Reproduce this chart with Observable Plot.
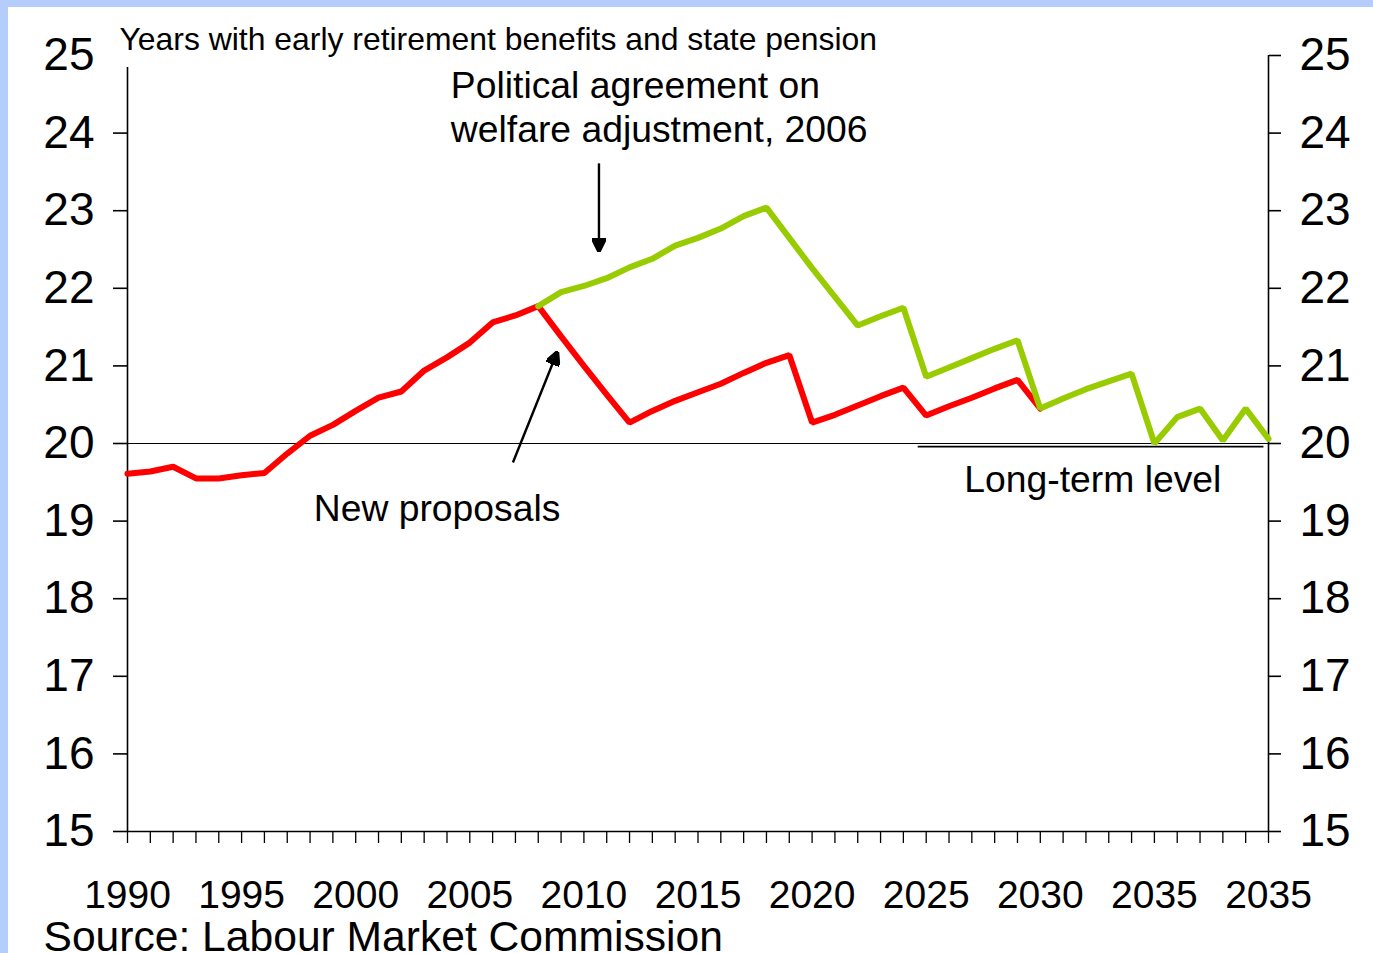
<!DOCTYPE html>
<html>
<head>
<meta charset="utf-8">
<script src="https://cdn.jsdelivr.net/npm/d3@7"></script>
<script src="https://cdn.jsdelivr.net/npm/@observablehq/plot@0.6"></script>
<style>
  html, body { margin: 0; padding: 0; }
  body { width: 1373px; height: 953px; background: #b4cdfa; position: relative; overflow: hidden; }
  #wrap { position: absolute; left: 8px; top: 7px; width: 1365px; height: 946px; background: #ffffff; }
</style>
</head>
<body>
<div id="wrap"></div>
<script>
// ---- Data ----
const redYears = [1990,1991,1992,1993,1994,1995,1996,1997,1998,1999,
                  2000,2001,2002,2003,2004,2005,2006,2007,2008,2009,
                  2010,2011,2012,2013,2014,2015,2016,2017,2018,2019,
                  2020,2021,2022,2023,2024,2025,2026,2027,2028,2029,2030];
const redValues = [19.61,19.64,19.70,19.55,19.55,19.59,19.62,19.87,20.10,20.24,
                   20.42,20.59,20.67,20.94,21.11,21.30,21.56,21.65,21.77,21.38,
                   21.00,20.63,20.27,20.42,20.55,20.66,20.77,20.91,21.04,21.14,
                   20.27,20.37,20.49,20.61,20.72,20.36,20.48,20.59,20.71,20.82,20.45];
const greenYears = [2008,2009,2010,2011,2012,2013,2014,2015,2016,2017,
                    2018,2019,2020,2021,2022,2023,2024,2025,2026,2027,
                    2028,2029,2030,2031,2032,2033,2034,2035,2036,2037,
                    2038,2039,2040];
const greenValues = [21.77,21.95,22.03,22.13,22.27,22.38,22.55,22.65,22.77,22.93,
                     23.04,22.65,22.26,21.89,21.52,21.64,21.75,20.86,20.98,21.10,
                     21.22,21.33,20.45,20.58,20.70,20.80,20.90,20.00,20.34,20.45,
                     20.04,20.45,20.06];
const referenceLevel = [20];
const longTermLevel = [{from: 2024.65, to: 2039.8, value: 19.96}];

const yTicks = [15,16,17,18,19,20,21,22,23,24,25];
const yTicksLeftMarks = [15,16,17,18,19,20,21,22,23,24];
const xMinorTicks = [1990,1991,1992,1993,1994,1995,1996,1997,1998,1999,
                     2000,2001,2002,2003,2004,2005,2006,2007,2008,2009,
                     2010,2011,2012,2013,2014,2015,2016,2017,2018,2019,
                     2020,2021,2022,2023,2024,2025,2026,2027,2028,2029,
                     2030,2031,2032,2033,2034,2035,2036,2037,2038,2039,2040];
const xLabelYears = [1990,1995,2000,2005,2010,2015,2020,2025,2030,2035,2040];
const xTickLabels = ["1990","1995","2000","2005","2010","2015","2020","2025","2030","2035","2035"];

const titleText = ["Years with early retirement benefits and state pension"];
const sourceText = ["Source: Labour Market Commission"];
const annotations = [
  {year: 2004.17, value: 24.446, label: "Political agreement on"},
  {year: 2004.17, value: 23.879, label: "welfare adjustment, 2006"},
  {year: 1998.16, value: 18.995, label: "New proposals"},
  {year: 2026.67, value: 19.369, label: "Long-term level"}
];
const arrows = [
  {x1: 2010.66, y1: 23.61, x2: 2010.66, y2: 22.49},
  {x1: 2006.89, y1: 19.755, x2: 2008.82, y2: 21.17}
];

// ---- Build tables ----
const red = redYears.map((year, i) => ({year, value: redValues[i]}));
const green = greenYears.map((year, i) => ({year, value: greenValues[i]}));

function filledArrow(color, context) {
  const doc = (context && context.document) || document;
  const ns = "http://www.w3.org/2000/svg";
  const m = doc.createElementNS(ns, "marker");
  m.setAttribute("viewBox", "0 -5 10 10");
  m.setAttribute("refX", "9");
  m.setAttribute("refY", "0");
  m.setAttribute("markerUnits", "userSpaceOnUse");
  m.setAttribute("markerWidth", "14");
  m.setAttribute("markerHeight", "14");
  m.setAttribute("orient", "auto");
  const p = doc.createElementNS(ns, "path");
  p.setAttribute("d", "M0,-5L10,0L0,5Z");
  p.setAttribute("fill", color);
  m.appendChild(p);
  return m;
}

const FONT = "'Liberation Sans', Arial, Helvetica, sans-serif";
const intFmt = d => String(d);

const chart = Plot.plot({
  width: 1365,
  height: 946,
  marginLeft: 119,
  marginRight: 105,
  marginTop: 48,
  marginBottom: 122,
  style: {fontFamily: FONT, background: "white", color: "black", overflow: "hidden"},
  x: {domain: [1990, 2040]},
  y: {domain: [15, 25]},
  marks: [
    // frame lines
    Plot.ruleX([1990], {y1: 15, y2: 24.845, stroke: "black", strokeWidth: 1.6}),
    Plot.ruleX([2040], {y1: 15, y2: 25, stroke: "black", strokeWidth: 1.6}),
    Plot.ruleY([15], {x1: 1990, x2: 2040, stroke: "black", strokeWidth: 1.6}),
    // reference line at 20
    Plot.ruleY(referenceLevel, {x1: 1990, x2: 2040, stroke: "black", strokeWidth: 1.2}),
    // long-term level
    Plot.ruleY(longTermLevel, {y: "value", x1: "from", x2: "to", stroke: "black", strokeWidth: 1.6}),
    // axes
    Plot.axisY(yTicksLeftMarks, {anchor: "left", tickSize: 14, strokeWidth: 1.6, tickFormat: () => ""}),
    Plot.axisY(yTicks, {anchor: "left", tickSize: 0, tickPadding: 33, fontSize: 46, fill: "black", tickFormat: intFmt}),
    Plot.axisY(yTicks, {anchor: "right", tickSize: 12, tickPadding: 19, strokeWidth: 1.6, fontSize: 46, fill: "black", tickFormat: intFmt}),
    Plot.axisX(xMinorTicks, {anchor: "bottom", tickSize: 12, strokeWidth: 1.3, tickFormat: () => ""}),
    Plot.axisX(xLabelYears, {anchor: "bottom", tickSize: 0, tickPadding: 49, fontSize: 39, fill: "black",
      tickFormat: d => xTickLabels[xLabelYears.indexOf(d)]}),
    // series
    Plot.line(red, {x: "year", y: "value", stroke: "#ff0000", strokeWidth: 6, strokeLinejoin: "miter"}),
    Plot.line(green, {x: "year", y: "value", stroke: "#99cc00", strokeWidth: 6, strokeLinejoin: "miter"}),
    // arrows
    Plot.link(arrows, {x1: "x1", y1: "y1", x2: "x2", y2: "y2", stroke: "black", strokeWidth: 2.4, markerEnd: filledArrow}),
    // annotations
    Plot.text(annotations, {x: "year", y: "value", text: "label", textAnchor: "start", lineAnchor: "bottom",
      fontSize: 37.3, fill: "black", fontFamily: FONT}),
    // title & source
    Plot.text(titleText, {frameAnchor: "top-left", text: d => d, textAnchor: "start", lineAnchor: "bottom",
      dx: -8, dy: -6, fontSize: 31.9, fill: "black", fontFamily: FONT}),
    Plot.text(sourceText, {frameAnchor: "bottom-left", text: d => d, textAnchor: "start", lineAnchor: "bottom",
      dx: -84, dy: 119, fontSize: 42.6, fill: "black", fontFamily: FONT})
  ]
});
document.getElementById("wrap").appendChild(chart);
</script>
</body>
</html>
